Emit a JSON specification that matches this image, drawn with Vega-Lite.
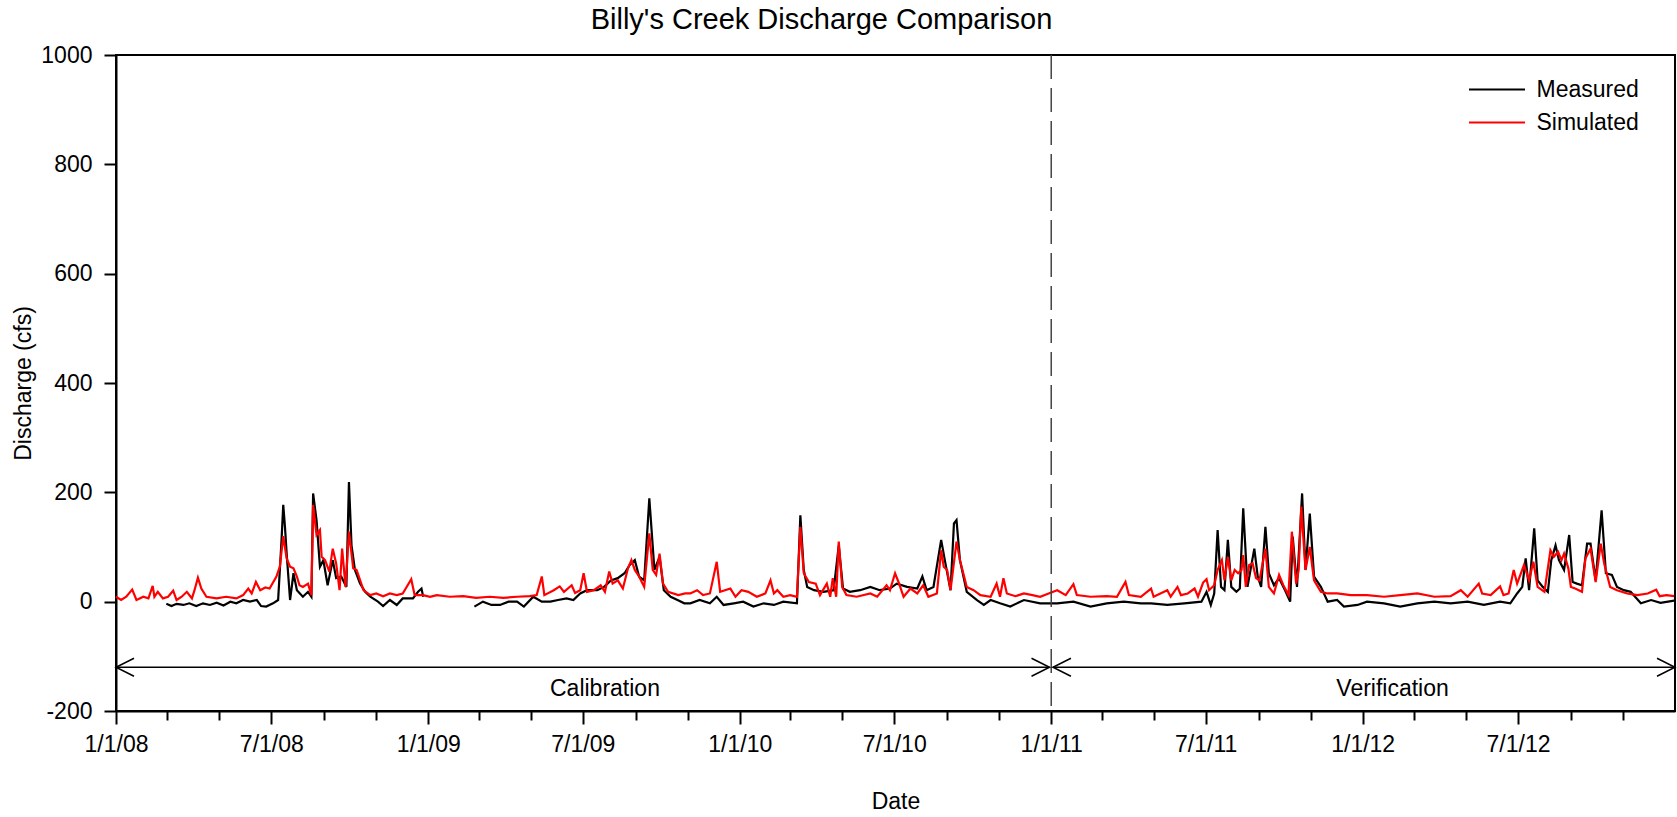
{
  "$schema": "https://vega.github.io/schema/vega-lite/v6.json",
  "autosize": "none",
  "width": 1559,
  "height": 656,
  "padding": {"left": 116, "top": 55, "right": 2, "bottom": 106},
  "background": "white",
  "title": {"text": "Billy's Creek Discharge Comparison", "font": "Liberation Sans", "fontSize": 29, "fontWeight": "normal", "color": "black", "anchor": "middle", "dx": -74, "offset": 9},
  "config": {
    "view": {"stroke": "black", "strokeWidth": 2},
    "font": "Liberation Sans",
    "axis": {"domainColor": "black", "domainWidth": 2, "tickColor": "black", "tickWidth": 2, "labelColor": "black", "labelFont": "Liberation Sans", "labelFontSize": 23, "titleFont": "Liberation Sans", "titleFontSize": 23, "titleFontWeight": "normal", "titleColor": "black", "grid": false}
  },
  "resolve": {"axis": {"x": "independent", "y": "independent"}},
  "datasets": {
    "measured": [
      {"date": "2008-02-29", "cfs": -4}, {"date": "2008-03-06", "cfs": -8}, {"date": "2008-03-12", "cfs": -4}, {"date": "2008-03-20", "cfs": -6}, {"date": "2008-03-27", "cfs": -3}, {"date": "2008-04-04", "cfs": -8}, {"date": "2008-04-12", "cfs": -3}, {"date": "2008-04-20", "cfs": -6}, {"date": "2008-04-28", "cfs": -2}, {"date": "2008-05-06", "cfs": -7}, {"date": "2008-05-14", "cfs": 0}, {"date": "2008-05-21", "cfs": -3}, {"date": "2008-05-29", "cfs": 3}, {"date": "2008-06-06", "cfs": 0}, {"date": "2008-06-14", "cfs": 3}, {"date": "2008-06-19", "cfs": -8}, {"date": "2008-06-25", "cfs": -9}, {"date": "2008-07-03", "cfs": -3}, {"date": "2008-07-09", "cfs": 3}, {"date": "2008-07-13", "cfs": 113}, {"date": "2008-07-15", "cfs": 177}, {"date": "2008-07-17", "cfs": 137}, {"date": "2008-07-19", "cfs": 88}, {"date": "2008-07-23", "cfs": 3}, {"date": "2008-07-27", "cfs": 52}, {"date": "2008-07-31", "cfs": 21}, {"date": "2008-08-07", "cfs": 9}, {"date": "2008-08-13", "cfs": 18}, {"date": "2008-08-17", "cfs": 9}, {"date": "2008-08-19", "cfs": 198}, {"date": "2008-08-23", "cfs": 149}, {"date": "2008-08-27", "cfs": 64}, {"date": "2008-08-31", "cfs": 76}, {"date": "2008-09-05", "cfs": 30}, {"date": "2008-09-11", "cfs": 76}, {"date": "2008-09-15", "cfs": 43}, {"date": "2008-09-21", "cfs": 46}, {"date": "2008-09-27", "cfs": 27}, {"date": "2008-09-30", "cfs": 219}, {"date": "2008-10-03", "cfs": 103}, {"date": "2008-10-07", "cfs": 58}, {"date": "2008-10-13", "cfs": 33}, {"date": "2008-10-19", "cfs": 18}, {"date": "2008-10-25", "cfs": 9}, {"date": "2008-11-03", "cfs": 0}, {"date": "2008-11-09", "cfs": -8}, {"date": "2008-11-17", "cfs": 3}, {"date": "2008-11-25", "cfs": -6}, {"date": "2008-12-02", "cfs": 6}, {"date": "2008-12-14", "cfs": 6}, {"date": "2008-12-20", "cfs": 18}, {"date": "2008-12-24", "cfs": 24}, {"date": "2008-12-26", "cfs": 9},
      {"date": "2009-01-20", "cfs": null},
      {"date": "2009-02-24", "cfs": -9}, {"date": "2009-03-06", "cfs": 0}, {"date": "2009-03-16", "cfs": -6}, {"date": "2009-03-26", "cfs": -6}, {"date": "2009-04-05", "cfs": 0}, {"date": "2009-04-15", "cfs": 0}, {"date": "2009-04-23", "cfs": -9}, {"date": "2009-05-04", "cfs": 9}, {"date": "2009-05-14", "cfs": 0}, {"date": "2009-05-24", "cfs": 0}, {"date": "2009-06-02", "cfs": 3}, {"date": "2009-06-12", "cfs": 6}, {"date": "2009-06-20", "cfs": 3}, {"date": "2009-06-28", "cfs": 15}, {"date": "2009-07-06", "cfs": 21}, {"date": "2009-07-18", "cfs": 21}, {"date": "2009-07-26", "cfs": 27}, {"date": "2009-08-03", "cfs": 39}, {"date": "2009-08-11", "cfs": 43}, {"date": "2009-08-19", "cfs": 52}, {"date": "2009-08-25", "cfs": 67}, {"date": "2009-08-31", "cfs": 76}, {"date": "2009-09-05", "cfs": 46}, {"date": "2009-09-11", "cfs": 39}, {"date": "2009-09-17", "cfs": 189}, {"date": "2009-09-23", "cfs": 58}, {"date": "2009-09-29", "cfs": 82}, {"date": "2009-10-04", "cfs": 21}, {"date": "2009-10-12", "cfs": 9}, {"date": "2009-10-20", "cfs": 3}, {"date": "2009-10-28", "cfs": -3}, {"date": "2009-11-04", "cfs": -3}, {"date": "2009-11-15", "cfs": 3}, {"date": "2009-11-27", "cfs": -3}, {"date": "2009-12-05", "cfs": 9}, {"date": "2009-12-13", "cfs": -6}, {"date": "2009-12-25", "cfs": -3},
      {"date": "2010-01-05", "cfs": 0}, {"date": "2010-01-17", "cfs": -9}, {"date": "2010-01-29", "cfs": -3}, {"date": "2010-02-10", "cfs": -6}, {"date": "2010-02-21", "cfs": 0}, {"date": "2010-03-09", "cfs": -3}, {"date": "2010-03-13", "cfs": 158}, {"date": "2010-03-17", "cfs": 58}, {"date": "2010-03-21", "cfs": 27}, {"date": "2010-03-29", "cfs": 21}, {"date": "2010-04-09", "cfs": 18}, {"date": "2010-04-21", "cfs": 21}, {"date": "2010-04-27", "cfs": 103}, {"date": "2010-05-02", "cfs": 24}, {"date": "2010-05-10", "cfs": 18}, {"date": "2010-05-22", "cfs": 21}, {"date": "2010-06-03", "cfs": 27}, {"date": "2010-06-14", "cfs": 21}, {"date": "2010-06-26", "cfs": 24}, {"date": "2010-07-04", "cfs": 33}, {"date": "2010-07-16", "cfs": 27}, {"date": "2010-07-28", "cfs": 24}, {"date": "2010-08-03", "cfs": 46}, {"date": "2010-08-08", "cfs": 21}, {"date": "2010-08-16", "cfs": 27}, {"date": "2010-08-25", "cfs": 113}, {"date": "2010-08-30", "cfs": 70}, {"date": "2010-09-05", "cfs": 21}, {"date": "2010-09-09", "cfs": 143}, {"date": "2010-09-12", "cfs": 149}, {"date": "2010-09-16", "cfs": 76}, {"date": "2010-09-24", "cfs": 18}, {"date": "2010-10-06", "cfs": 3}, {"date": "2010-10-14", "cfs": -6}, {"date": "2010-10-22", "cfs": 3}, {"date": "2010-11-02", "cfs": -3}, {"date": "2010-11-14", "cfs": -9}, {"date": "2010-11-30", "cfs": 3}, {"date": "2010-12-19", "cfs": -3},
      {"date": "2011-01-08", "cfs": -3}, {"date": "2011-01-27", "cfs": 0}, {"date": "2011-02-16", "cfs": -9}, {"date": "2011-03-07", "cfs": -3}, {"date": "2011-03-27", "cfs": 0}, {"date": "2011-04-16", "cfs": -3}, {"date": "2011-04-28", "cfs": -3}, {"date": "2011-05-17", "cfs": -6}, {"date": "2011-06-06", "cfs": -3}, {"date": "2011-06-26", "cfs": 0}, {"date": "2011-07-02", "cfs": 18}, {"date": "2011-07-07", "cfs": -6}, {"date": "2011-07-11", "cfs": 15}, {"date": "2011-07-15", "cfs": 131}, {"date": "2011-07-19", "cfs": 27}, {"date": "2011-07-23", "cfs": 21}, {"date": "2011-07-27", "cfs": 113}, {"date": "2011-07-31", "cfs": 27}, {"date": "2011-08-06", "cfs": 18}, {"date": "2011-08-10", "cfs": 24}, {"date": "2011-08-14", "cfs": 171}, {"date": "2011-08-19", "cfs": 27}, {"date": "2011-08-27", "cfs": 97}, {"date": "2011-08-31", "cfs": 46}, {"date": "2011-09-04", "cfs": 27}, {"date": "2011-09-09", "cfs": 137}, {"date": "2011-09-13", "cfs": 52}, {"date": "2011-09-19", "cfs": 30}, {"date": "2011-09-25", "cfs": 43}, {"date": "2011-10-02", "cfs": 21}, {"date": "2011-10-08", "cfs": 0}, {"date": "2011-10-11", "cfs": 119}, {"date": "2011-10-16", "cfs": 27}, {"date": "2011-10-22", "cfs": 198}, {"date": "2011-10-26", "cfs": 58}, {"date": "2011-10-31", "cfs": 161}, {"date": "2011-11-05", "cfs": 46}, {"date": "2011-11-13", "cfs": 27}, {"date": "2011-11-21", "cfs": 0}, {"date": "2011-12-02", "cfs": 3}, {"date": "2011-12-10", "cfs": -9}, {"date": "2011-12-26", "cfs": -6},
      {"date": "2012-01-06", "cfs": 0}, {"date": "2012-01-26", "cfs": -3}, {"date": "2012-02-14", "cfs": -9}, {"date": "2012-03-05", "cfs": -3}, {"date": "2012-03-25", "cfs": 0}, {"date": "2012-04-13", "cfs": -3}, {"date": "2012-05-03", "cfs": 0}, {"date": "2012-05-22", "cfs": -6}, {"date": "2012-06-10", "cfs": 0}, {"date": "2012-06-22", "cfs": -3}, {"date": "2012-06-30", "cfs": 15}, {"date": "2012-07-06", "cfs": 27}, {"date": "2012-07-10", "cfs": 79}, {"date": "2012-07-14", "cfs": 21}, {"date": "2012-07-20", "cfs": 134}, {"date": "2012-07-24", "cfs": 39}, {"date": "2012-07-30", "cfs": 27}, {"date": "2012-08-05", "cfs": 18}, {"date": "2012-08-09", "cfs": 76}, {"date": "2012-08-14", "cfs": 103}, {"date": "2012-08-18", "cfs": 76}, {"date": "2012-08-24", "cfs": 58}, {"date": "2012-08-30", "cfs": 122}, {"date": "2012-09-03", "cfs": 36}, {"date": "2012-09-08", "cfs": 33}, {"date": "2012-09-14", "cfs": 30}, {"date": "2012-09-20", "cfs": 106}, {"date": "2012-09-24", "cfs": 106}, {"date": "2012-09-30", "cfs": 39}, {"date": "2012-10-07", "cfs": 167}, {"date": "2012-10-12", "cfs": 52}, {"date": "2012-10-19", "cfs": 49}, {"date": "2012-10-25", "cfs": 27}, {"date": "2012-11-02", "cfs": 21}, {"date": "2012-11-10", "cfs": 18}, {"date": "2012-11-22", "cfs": -3}, {"date": "2012-12-04", "cfs": 3}, {"date": "2012-12-15", "cfs": -2}, {"date": "2012-12-31", "cfs": 2}
    ],
    "simulated": [
      {"date": "2008-01-01", "cfs": 9}, {"date": "2008-01-07", "cfs": 3}, {"date": "2008-01-13", "cfs": 9}, {"date": "2008-01-20", "cfs": 22}, {"date": "2008-01-25", "cfs": 3}, {"date": "2008-02-02", "cfs": 9}, {"date": "2008-02-08", "cfs": 6}, {"date": "2008-02-13", "cfs": 29}, {"date": "2008-02-15", "cfs": 9}, {"date": "2008-02-19", "cfs": 18}, {"date": "2008-02-25", "cfs": 6}, {"date": "2008-03-02", "cfs": 9}, {"date": "2008-03-08", "cfs": 20}, {"date": "2008-03-12", "cfs": 3}, {"date": "2008-03-18", "cfs": 9}, {"date": "2008-03-24", "cfs": 18}, {"date": "2008-03-30", "cfs": 6}, {"date": "2008-04-02", "cfs": 21}, {"date": "2008-04-06", "cfs": 44}, {"date": "2008-04-10", "cfs": 24}, {"date": "2008-04-16", "cfs": 9}, {"date": "2008-04-28", "cfs": 6}, {"date": "2008-05-09", "cfs": 9}, {"date": "2008-05-21", "cfs": 6}, {"date": "2008-05-29", "cfs": 12}, {"date": "2008-06-04", "cfs": 24}, {"date": "2008-06-08", "cfs": 15}, {"date": "2008-06-13", "cfs": 36}, {"date": "2008-06-18", "cfs": 21}, {"date": "2008-06-24", "cfs": 26}, {"date": "2008-06-29", "cfs": 24}, {"date": "2008-07-07", "cfs": 46}, {"date": "2008-07-11", "cfs": 64}, {"date": "2008-07-15", "cfs": 120}, {"date": "2008-07-19", "cfs": 79}, {"date": "2008-07-23", "cfs": 64}, {"date": "2008-07-27", "cfs": 61}, {"date": "2008-07-31", "cfs": 46}, {"date": "2008-08-03", "cfs": 30}, {"date": "2008-08-07", "cfs": 27}, {"date": "2008-08-13", "cfs": 33}, {"date": "2008-08-17", "cfs": 12}, {"date": "2008-08-19", "cfs": 177}, {"date": "2008-08-23", "cfs": 122}, {"date": "2008-08-27", "cfs": 131}, {"date": "2008-08-29", "cfs": 82}, {"date": "2008-09-02", "cfs": 76}, {"date": "2008-09-07", "cfs": 55}, {"date": "2008-09-11", "cfs": 97}, {"date": "2008-09-15", "cfs": 70}, {"date": "2008-09-19", "cfs": 21}, {"date": "2008-09-22", "cfs": 97}, {"date": "2008-09-26", "cfs": 27}, {"date": "2008-09-30", "cfs": 128}, {"date": "2008-10-05", "cfs": 61}, {"date": "2008-10-09", "cfs": 58}, {"date": "2008-10-17", "cfs": 21}, {"date": "2008-10-25", "cfs": 12}, {"date": "2008-11-01", "cfs": 15}, {"date": "2008-11-09", "cfs": 10}, {"date": "2008-11-17", "cfs": 15}, {"date": "2008-11-25", "cfs": 12}, {"date": "2008-12-02", "cfs": 15}, {"date": "2008-12-12", "cfs": 41}, {"date": "2008-12-16", "cfs": 12}, {"date": "2008-12-26", "cfs": 12},
      {"date": "2009-01-03", "cfs": 9}, {"date": "2009-01-11", "cfs": 12}, {"date": "2009-01-26", "cfs": 9}, {"date": "2009-02-11", "cfs": 10}, {"date": "2009-02-26", "cfs": 7}, {"date": "2009-03-14", "cfs": 9}, {"date": "2009-03-30", "cfs": 7}, {"date": "2009-04-15", "cfs": 9}, {"date": "2009-04-30", "cfs": 10}, {"date": "2009-05-08", "cfs": 12}, {"date": "2009-05-14", "cfs": 46}, {"date": "2009-05-17", "cfs": 12}, {"date": "2009-05-28", "cfs": 21}, {"date": "2009-06-04", "cfs": 28}, {"date": "2009-06-09", "cfs": 18}, {"date": "2009-06-18", "cfs": 30}, {"date": "2009-06-22", "cfs": 16}, {"date": "2009-06-28", "cfs": 21}, {"date": "2009-07-02", "cfs": 52}, {"date": "2009-07-06", "cfs": 18}, {"date": "2009-07-14", "cfs": 21}, {"date": "2009-07-22", "cfs": 30}, {"date": "2009-07-27", "cfs": 18}, {"date": "2009-08-01", "cfs": 55}, {"date": "2009-08-05", "cfs": 33}, {"date": "2009-08-11", "cfs": 39}, {"date": "2009-08-17", "cfs": 24}, {"date": "2009-08-23", "cfs": 61}, {"date": "2009-08-27", "cfs": 76}, {"date": "2009-08-31", "cfs": 58}, {"date": "2009-09-05", "cfs": 46}, {"date": "2009-09-11", "cfs": 27}, {"date": "2009-09-17", "cfs": 125}, {"date": "2009-09-21", "cfs": 58}, {"date": "2009-09-25", "cfs": 49}, {"date": "2009-09-29", "cfs": 88}, {"date": "2009-10-03", "cfs": 33}, {"date": "2009-10-09", "cfs": 18}, {"date": "2009-10-21", "cfs": 12}, {"date": "2009-10-29", "cfs": 15}, {"date": "2009-11-04", "cfs": 15}, {"date": "2009-11-12", "cfs": 21}, {"date": "2009-11-19", "cfs": 12}, {"date": "2009-11-27", "cfs": 15}, {"date": "2009-12-05", "cfs": 73}, {"date": "2009-12-09", "cfs": 18}, {"date": "2009-12-21", "cfs": 24}, {"date": "2009-12-27", "cfs": 9},
      {"date": "2010-01-03", "cfs": 21}, {"date": "2010-01-11", "cfs": 18}, {"date": "2010-01-21", "cfs": 9}, {"date": "2010-01-31", "cfs": 15}, {"date": "2010-02-06", "cfs": 39}, {"date": "2010-02-10", "cfs": 15}, {"date": "2010-02-14", "cfs": 21}, {"date": "2010-02-21", "cfs": 9}, {"date": "2010-03-01", "cfs": 12}, {"date": "2010-03-09", "cfs": 9}, {"date": "2010-03-13", "cfs": 137}, {"date": "2010-03-17", "cfs": 52}, {"date": "2010-03-23", "cfs": 36}, {"date": "2010-03-31", "cfs": 33}, {"date": "2010-04-05", "cfs": 12}, {"date": "2010-04-13", "cfs": 33}, {"date": "2010-04-17", "cfs": 9}, {"date": "2010-04-20", "cfs": 43}, {"date": "2010-04-24", "cfs": 9}, {"date": "2010-04-27", "cfs": 110}, {"date": "2010-05-01", "cfs": 27}, {"date": "2010-05-06", "cfs": 12}, {"date": "2010-05-18", "cfs": 9}, {"date": "2010-06-03", "cfs": 15}, {"date": "2010-06-11", "cfs": 9}, {"date": "2010-06-22", "cfs": 30}, {"date": "2010-06-26", "cfs": 21}, {"date": "2010-07-02", "cfs": 52}, {"date": "2010-07-06", "cfs": 36}, {"date": "2010-07-12", "cfs": 9}, {"date": "2010-07-20", "cfs": 24}, {"date": "2010-07-28", "cfs": 15}, {"date": "2010-08-04", "cfs": 30}, {"date": "2010-08-10", "cfs": 9}, {"date": "2010-08-20", "cfs": 15}, {"date": "2010-08-25", "cfs": 94}, {"date": "2010-08-28", "cfs": 64}, {"date": "2010-09-01", "cfs": 58}, {"date": "2010-09-05", "cfs": 21}, {"date": "2010-09-12", "cfs": 110}, {"date": "2010-09-16", "cfs": 76}, {"date": "2010-09-24", "cfs": 27}, {"date": "2010-10-02", "cfs": 21}, {"date": "2010-10-10", "cfs": 12}, {"date": "2010-10-22", "cfs": 9}, {"date": "2010-10-29", "cfs": 33}, {"date": "2010-11-02", "cfs": 9}, {"date": "2010-11-06", "cfs": 43}, {"date": "2010-11-10", "cfs": 15}, {"date": "2010-11-20", "cfs": 10}, {"date": "2010-11-30", "cfs": 15}, {"date": "2010-12-10", "cfs": 12}, {"date": "2010-12-19", "cfs": 9}, {"date": "2010-12-29", "cfs": 15},
      {"date": "2011-01-08", "cfs": 21}, {"date": "2011-01-18", "cfs": 12}, {"date": "2011-01-27", "cfs": 32}, {"date": "2011-01-31", "cfs": 12}, {"date": "2011-02-16", "cfs": 9}, {"date": "2011-03-07", "cfs": 10}, {"date": "2011-03-19", "cfs": 9}, {"date": "2011-03-29", "cfs": 36}, {"date": "2011-04-02", "cfs": 12}, {"date": "2011-04-16", "cfs": 9}, {"date": "2011-04-28", "cfs": 24}, {"date": "2011-05-01", "cfs": 9}, {"date": "2011-05-17", "cfs": 21}, {"date": "2011-05-21", "cfs": 9}, {"date": "2011-05-29", "cfs": 27}, {"date": "2011-06-02", "cfs": 12}, {"date": "2011-06-10", "cfs": 15}, {"date": "2011-06-18", "cfs": 24}, {"date": "2011-06-22", "cfs": 9}, {"date": "2011-06-28", "cfs": 35}, {"date": "2011-07-02", "cfs": 41}, {"date": "2011-07-05", "cfs": 21}, {"date": "2011-07-11", "cfs": 30}, {"date": "2011-07-15", "cfs": 58}, {"date": "2011-07-20", "cfs": 76}, {"date": "2011-07-23", "cfs": 39}, {"date": "2011-07-27", "cfs": 82}, {"date": "2011-07-31", "cfs": 39}, {"date": "2011-08-04", "cfs": 58}, {"date": "2011-08-08", "cfs": 52}, {"date": "2011-08-12", "cfs": 58}, {"date": "2011-08-14", "cfs": 85}, {"date": "2011-08-17", "cfs": 27}, {"date": "2011-08-21", "cfs": 67}, {"date": "2011-08-25", "cfs": 70}, {"date": "2011-08-29", "cfs": 43}, {"date": "2011-09-02", "cfs": 39}, {"date": "2011-09-09", "cfs": 97}, {"date": "2011-09-13", "cfs": 27}, {"date": "2011-09-19", "cfs": 15}, {"date": "2011-09-25", "cfs": 49}, {"date": "2011-09-30", "cfs": 30}, {"date": "2011-10-06", "cfs": 12}, {"date": "2011-10-10", "cfs": 128}, {"date": "2011-10-15", "cfs": 33}, {"date": "2011-10-18", "cfs": 58}, {"date": "2011-10-21", "cfs": 174}, {"date": "2011-10-26", "cfs": 58}, {"date": "2011-10-31", "cfs": 100}, {"date": "2011-11-05", "cfs": 39}, {"date": "2011-11-13", "cfs": 18}, {"date": "2011-11-21", "cfs": 15}, {"date": "2011-12-02", "cfs": 15}, {"date": "2011-12-18", "cfs": 12},
      {"date": "2012-01-06", "cfs": 12}, {"date": "2012-01-26", "cfs": 9}, {"date": "2012-02-14", "cfs": 12}, {"date": "2012-03-05", "cfs": 15}, {"date": "2012-03-25", "cfs": 9}, {"date": "2012-04-13", "cfs": 10}, {"date": "2012-04-25", "cfs": 21}, {"date": "2012-05-03", "cfs": 9}, {"date": "2012-05-16", "cfs": 33}, {"date": "2012-05-20", "cfs": 15}, {"date": "2012-05-30", "cfs": 12}, {"date": "2012-06-10", "cfs": 28}, {"date": "2012-06-14", "cfs": 12}, {"date": "2012-06-20", "cfs": 15}, {"date": "2012-06-26", "cfs": 58}, {"date": "2012-06-30", "cfs": 33}, {"date": "2012-07-08", "cfs": 67}, {"date": "2012-07-14", "cfs": 39}, {"date": "2012-07-19", "cfs": 73}, {"date": "2012-07-24", "cfs": 27}, {"date": "2012-08-01", "cfs": 18}, {"date": "2012-08-08", "cfs": 94}, {"date": "2012-08-12", "cfs": 82}, {"date": "2012-08-17", "cfs": 91}, {"date": "2012-08-21", "cfs": 76}, {"date": "2012-08-24", "cfs": 88}, {"date": "2012-08-29", "cfs": 61}, {"date": "2012-09-01", "cfs": 27}, {"date": "2012-09-06", "cfs": 24}, {"date": "2012-09-14", "cfs": 18}, {"date": "2012-09-18", "cfs": 79}, {"date": "2012-09-24", "cfs": 97}, {"date": "2012-09-30", "cfs": 36}, {"date": "2012-10-06", "cfs": 106}, {"date": "2012-10-10", "cfs": 70}, {"date": "2012-10-17", "cfs": 27}, {"date": "2012-10-25", "cfs": 21}, {"date": "2012-11-06", "cfs": 15}, {"date": "2012-11-18", "cfs": 12}, {"date": "2012-11-30", "cfs": 15}, {"date": "2012-12-10", "cfs": 22}, {"date": "2012-12-14", "cfs": 10}, {"date": "2012-12-22", "cfs": 12}, {"date": "2012-12-31", "cfs": 10}
    ],
    "periods": [
      {"label": "Calibration", "start": "2008-01-01", "end": "2010-12-30", "labelDate": "2009-07-27"},
      {"label": "Verification", "start": "2011-01-03", "end": "2013-01-01", "labelDate": "2012-02-05"}
    ],
    "boundary": [{"date": "2011-01-01"}]
  },
  "layer": [
    {
      "data": {"name": "measured"},
      "mark": {"type": "line", "strokeWidth": 2.2, "invalid": "break-paths-filter-domains"},
      "encoding": {
        "x": {
          "field": "date", "type": "temporal",
          "scale": {"type": "utc", "nice": false, "domain": [{"year": 2008, "month": 1, "date": 1, "utc": true}, {"year": 2013, "month": 1, "date": 1, "utc": true}]},
          "axis": {
            "orient": "bottom", "title": "Date", "format": "%-m/%-d/%y", "tickSize": 13, "labelPadding": 9, "titlePadding": 34, "labelFlush": false, "labelOverlap": false,
            "values": [
              {"year": 2008, "month": 1, "date": 1, "utc": true}, {"year": 2008, "month": 7, "date": 1, "utc": true},
              {"year": 2009, "month": 1, "date": 1, "utc": true}, {"year": 2009, "month": 7, "date": 1, "utc": true},
              {"year": 2010, "month": 1, "date": 1, "utc": true}, {"year": 2010, "month": 7, "date": 1, "utc": true},
              {"year": 2011, "month": 1, "date": 1, "utc": true}, {"year": 2011, "month": 7, "date": 1, "utc": true},
              {"year": 2012, "month": 1, "date": 1, "utc": true}, {"year": 2012, "month": 7, "date": 1, "utc": true}
            ]
          }
        },
        "y": {
          "field": "cfs", "type": "quantitative",
          "scale": {"domain": [-200, 1000], "nice": false, "zero": false},
          "axis": {"orient": "left", "title": "Discharge (cfs)", "values": [-200, 0, 200, 400, 600, 800, 1000], "labelExpr": "'' + datum.value", "tickSize": 12, "labelPadding": 12, "titlePadding": 5}
        },
        "color": {
          "datum": "Measured", "type": "nominal",
          "scale": {"domain": ["Measured", "Simulated"], "range": ["#000000", "#ff0000"]},
          "legend": {"title": null, "orient": "none", "legendX": 1369.5, "legendY": 23, "padding": 0, "symbolType": "M-3,0L3,0", "symbolSize": 348, "symbolStrokeWidth": 2, "labelFont": "Liberation Sans", "labelFontSize": 23, "labelColor": "black", "labelOffset": 28, "rowPadding": 9}
        }
      }
    },
    {
      "data": {"name": "simulated"},
      "mark": {"type": "line", "strokeWidth": 2.2},
      "encoding": {
        "x": {
          "field": "date", "type": "temporal",
          "axis": {
            "orient": "bottom", "title": null, "labels": false, "domain": false, "tickSize": 9,
            "values": [
              {"year": 2008, "month": 3, "date": 1, "utc": true}, {"year": 2008, "month": 5, "date": 1, "utc": true}, {"year": 2008, "month": 9, "date": 1, "utc": true}, {"year": 2008, "month": 11, "date": 1, "utc": true},
              {"year": 2009, "month": 3, "date": 1, "utc": true}, {"year": 2009, "month": 5, "date": 1, "utc": true}, {"year": 2009, "month": 9, "date": 1, "utc": true}, {"year": 2009, "month": 11, "date": 1, "utc": true},
              {"year": 2010, "month": 3, "date": 1, "utc": true}, {"year": 2010, "month": 5, "date": 1, "utc": true}, {"year": 2010, "month": 9, "date": 1, "utc": true}, {"year": 2010, "month": 11, "date": 1, "utc": true},
              {"year": 2011, "month": 3, "date": 1, "utc": true}, {"year": 2011, "month": 5, "date": 1, "utc": true}, {"year": 2011, "month": 9, "date": 1, "utc": true}, {"year": 2011, "month": 11, "date": 1, "utc": true},
              {"year": 2012, "month": 3, "date": 1, "utc": true}, {"year": 2012, "month": 5, "date": 1, "utc": true}, {"year": 2012, "month": 9, "date": 1, "utc": true}, {"year": 2012, "month": 11, "date": 1, "utc": true}
            ]
          }
        },
        "y": {"field": "cfs", "type": "quantitative", "axis": null},
        "color": {"datum": "Simulated", "type": "nominal"}
      }
    },
    {
      "data": {"name": "boundary"},
      "mark": {"type": "rule", "color": "#444444", "strokeWidth": 1.5, "strokeDash": [24, 9]},
      "encoding": {"x": {"field": "date", "type": "temporal", "axis": null}}
    },
    {
      "data": {"name": "periods"},
      "mark": {"type": "rule", "color": "black", "strokeWidth": 1.5},
      "encoding": {
        "x": {"field": "start", "type": "temporal", "axis": null},
        "x2": {"field": "end"},
        "y": {"datum": -120, "type": "quantitative", "axis": null}
      }
    },
    {
      "data": {"name": "periods"},
      "mark": {"type": "point", "shape": "M2,-1L0,0L2,1", "size": 324, "filled": false, "stroke": "black", "strokeWidth": 1.5, "opacity": 1},
      "encoding": {
        "x": {"field": "start", "type": "temporal", "axis": null},
        "y": {"datum": -120, "type": "quantitative", "axis": null}
      }
    },
    {
      "data": {"name": "periods"},
      "mark": {"type": "point", "shape": "M-2,-1L0,0L-2,1", "size": 324, "filled": false, "stroke": "black", "strokeWidth": 1.5, "opacity": 1},
      "encoding": {
        "x": {"field": "end", "type": "temporal", "axis": null},
        "y": {"datum": -120, "type": "quantitative", "axis": null}
      }
    },
    {
      "data": {"name": "periods"},
      "mark": {"type": "text", "font": "Liberation Sans", "fontSize": 23, "color": "black", "align": "center", "baseline": "middle"},
      "encoding": {
        "x": {"field": "labelDate", "type": "temporal", "axis": null},
        "y": {"datum": -159, "type": "quantitative", "axis": null},
        "text": {"field": "label"}
      }
    }
  ]
}
